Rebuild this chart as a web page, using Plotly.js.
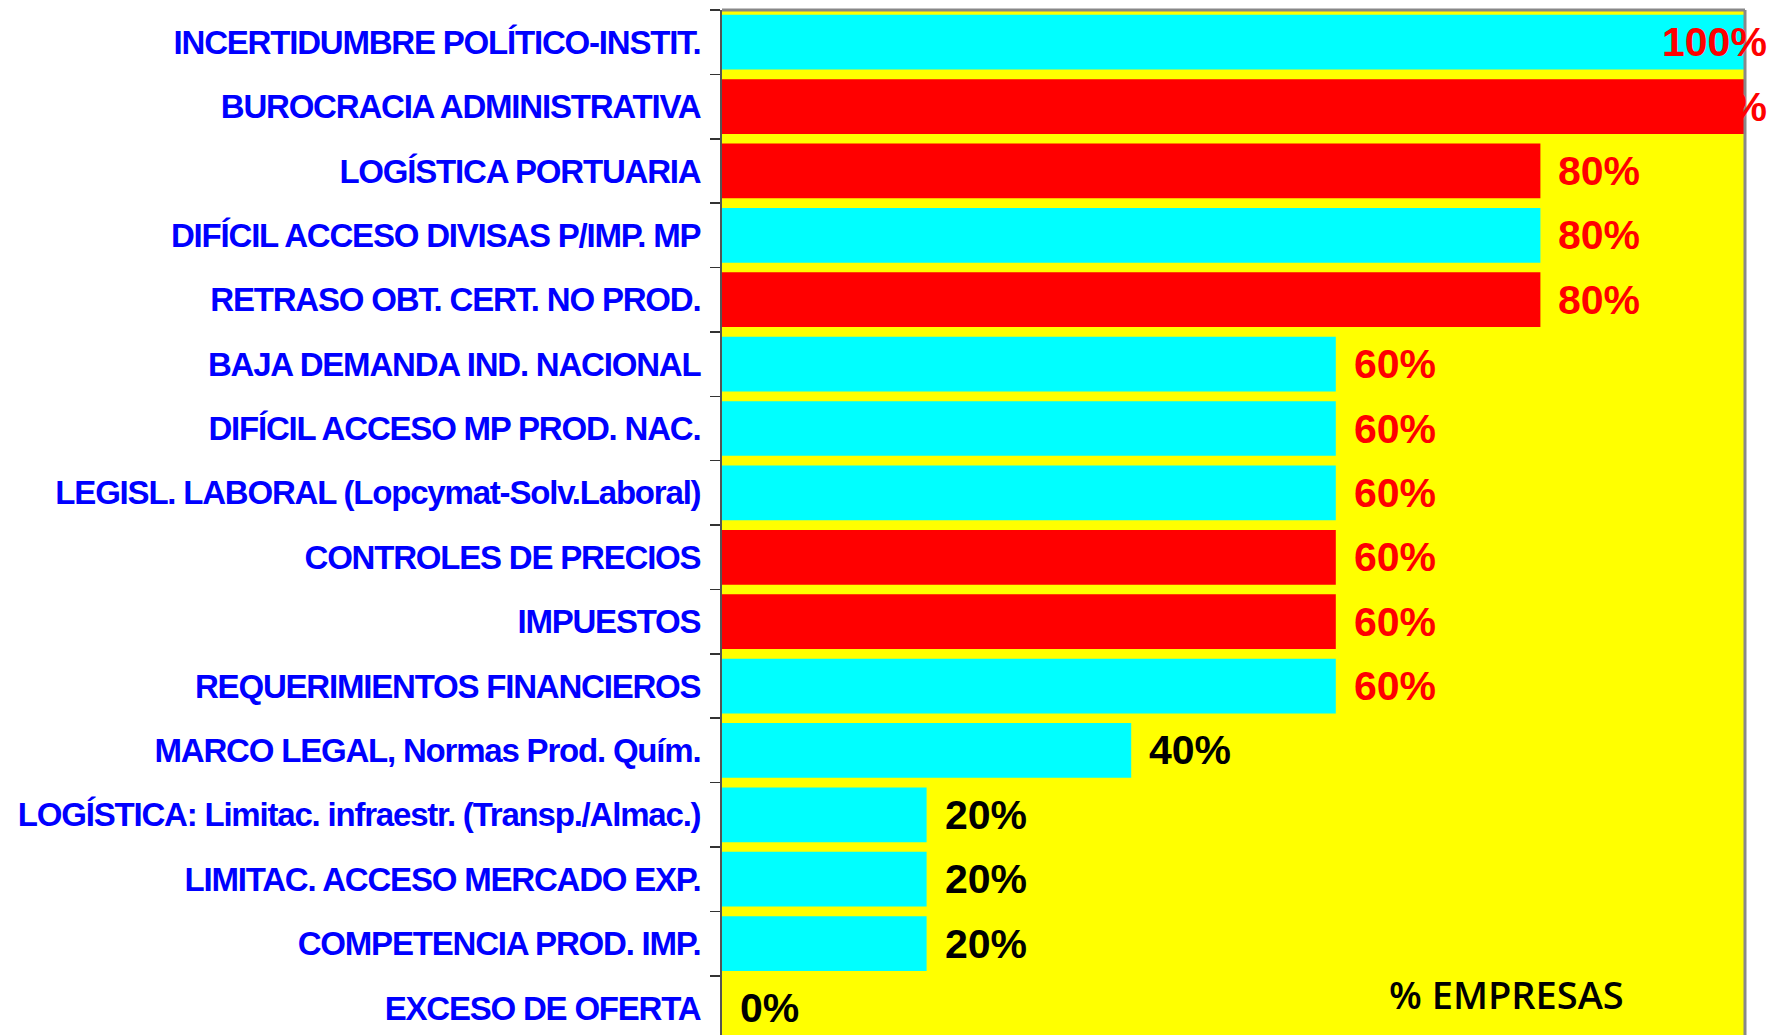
<!DOCTYPE html>
<html>
<head>
<meta charset="utf-8">
<script src="https://cdn.plot.ly/plotly-3.0.1.min.js"></script>
<style>
html,body{margin:0;padding:0;background:#fff;}
#chart{width:1769px;height:1035px;}
#chart .ytick text{letter-spacing:-1.2px;}
</style>
</head>
<body>
<div id="chart"></div>
<script>
const categories = [
  "INCERTIDUMBRE POLÍTICO-INSTIT.",
  "BUROCRACIA ADMINISTRATIVA",
  "LOGÍSTICA PORTUARIA",
  "DIFÍCIL ACCESO DIVISAS P/IMP. MP",
  "RETRASO OBT. CERT. NO PROD.",
  "BAJA DEMANDA IND. NACIONAL",
  "DIFÍCIL ACCESO MP PROD. NAC.",
  "LEGISL. LABORAL (Lopcymat-Solv.Laboral)",
  "CONTROLES DE PRECIOS",
  "IMPUESTOS",
  "REQUERIMIENTOS FINANCIEROS",
  "MARCO LEGAL, Normas Prod. Quím.",
  "LOGÍSTICA: Limitac. infraestr. (Transp./Almac.)",
  "LIMITAC. ACCESO MERCADO EXP.",
  "COMPETENCIA PROD. IMP.",
  "EXCESO DE OFERTA"
];
const values = [100, 100, 80, 80, 80, 60, 60, 60, 60, 60, 60, 40, 20, 20, 20, 0];
const barColors = ["#00FFFF","#FF0000","#FF0000","#00FFFF","#FF0000","#00FFFF","#00FFFF","#00FFFF","#FF0000","#FF0000","#00FFFF","#00FFFF","#00FFFF","#00FFFF","#00FFFF","#00FFFF"];
const valueLabels = values.map(v => v + "%");
const axisTitle = "% EMPRESAS";

const trace = {
  type: "bar",
  orientation: "h",
  y: categories,
  x: values,
  marker: {color: barColors, line: {width: 0}},
  width: 0.85,
  hoverinfo: "none"
};

const annotations = values.map((v, i) => ({
  x: v, y: categories[i], xref: "x", yref: "y",
  text: valueLabels[i],
  showarrow: false,
  xanchor: v >= 100 ? "right" : "left",
  xshift: v >= 100 ? 24 : 16,
  font: {family: "Liberation Sans, Arial, sans-serif", size: 41, weight: "bold", color: v >= 60 ? "#FF0000" : "#000000"}
}));
annotations.push({
  x: 0.767, y: 0.04, xref: "paper", yref: "paper",
  text: axisTitle, showarrow: false, xanchor: "center", yanchor: "middle",
  font: {family: "Open Sans, Noto Sans, sans-serif", size: 38, weight: 600, color: "#000000"}
});

const layout = {
  width: 1769, height: 1035,
  margin: {l: 722, r: 24, t: 10, b: 0, pad: 0},
  paper_bgcolor: "#FFFFFF",
  plot_bgcolor: "#FFFF00",
  showlegend: false,
  xaxis: {range: [0, 100], visible: false, fixedrange: true},
  yaxis: {
    type: "category",
    categoryorder: "array", categoryarray: categories,
    range: [15.42, -0.5],
    showline: true, linecolor: "#555555", linewidth: 2,
    ticks: "outside", tickson: "boundaries", ticklen: 10, tickcolor: "#333333", tickwidth: 1.5,
    ticklabelstandoff: 13,
    tickfont: {family: "Liberation Sans Narrow, Arial Narrow, sans-serif", size: 33, weight: "bold", color: "#0000FF"},
    showgrid: false, zeroline: false, fixedrange: true
  },
  shapes: [
    {type: "line", xref: "paper", yref: "paper", x0: 0, x1: 1, y0: 1, y1: 1, line: {color: "#888888", width: 3}},
    {type: "line", xref: "paper", yref: "paper", x0: 1, x1: 1, y0: 0, y1: 1, line: {color: "#888888", width: 3}}
  ],
  annotations: annotations
};

Plotly.newPlot("chart", [trace], layout, {displayModeBar: false, staticPlot: true});
</script>
</body>
</html>
